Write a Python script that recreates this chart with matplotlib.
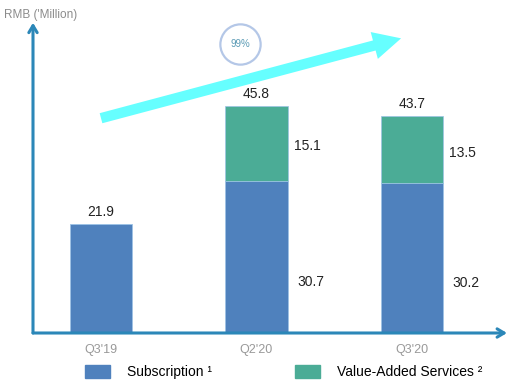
import numpy as np
import matplotlib.pyplot as plt

plt.rcParams['font.family'] = ['Liberation Sans', 'DejaVu Sans']

# data
quarters = ["Q3'19", "Q2'20", "Q3'20"]
subscription = [21.9, 30.7, 30.2]
value_added = [0.0, 15.1, 13.5]
totals = [21.9, 45.8, 43.7]
growth_label = '99%'

blue = '#4F81BD'
teal = '#4BAC96'
axis_col = '#2B87B8'
grey = '#8C8C8C'

fig = plt.figure(figsize=(5.10, 3.87), dpi=100)
# left edge sits on the y axis line
ax = fig.add_axes([33 / 510, 54 / 387, (507 - 33) / 510, 315 / 387])
ax.set_xlim(-(101 - 33) / 155.5, (507 - 101) / 155.5)
ax.set_ylim(0, 63.5)
ax.set_axis_off()

x = np.arange(len(quarters))
w = 0.4
ax.bar(x, subscription, w, color=blue, edgecolor='#9DC3E6', linewidth=0.5, zorder=2)
ax.bar(x, value_added, w, bottom=subscription, color=teal, edgecolor='#9DC3E6',
       linewidth=0.5, zorder=2)

# axis arrows
ax.annotate('', xy=(0, 0.985), xytext=(0, 0), xycoords='axes fraction',
            arrowprops=dict(arrowstyle='->,head_length=0.5,head_width=0.3',
                            color=axis_col, lw=2.2, shrinkA=0, shrinkB=0))
ax.annotate('', xy=(1.0, 0), xytext=(0, 0), xycoords='axes fraction',
            arrowprops=dict(arrowstyle='->,head_length=0.5,head_width=0.3',
                            color=axis_col, lw=2.2, shrinkA=0, shrinkB=0))

# labels
for i in range(len(quarters)):
    ax.text(x[i], totals[i] + 1.0, f'{totals[i]:.1f}', ha='center', va='bottom',
            fontsize=10, color='#222222')
    ax.text(x[i], -2.2, quarters[i], ha='center', va='top', fontsize=9, color='#999999')
    if value_added[i] > 0:
        ax.text(x[i] + w / 2 + 0.06, subscription[i] / 3, f'{subscription[i]:.1f}',
                ha='left', va='center', fontsize=10, color='#222222')
        ax.text(x[i] + w / 2 + 0.04, subscription[i] + value_added[i] / 2 - 0.6,
                f'{value_added[i]:.1f}', ha='left', va='center', fontsize=10,
                color='#222222')

# growth arrow
ax.annotate('', xy=(1.93, 59.4), xytext=(0.0, 43.3),
            arrowprops=dict(arrowstyle='simple,head_length=2.0,head_width=2.0,tail_width=0.75',
                            color='#66FFFF', mutation_scale=10, shrinkA=0, shrinkB=0, lw=0))
ax.plot([0.894], [58.3], marker='o', markersize=29, markerfacecolor='white',
        markeredgecolor='#B4C7E7', markeredgewidth=1.6, zorder=4)
ax.text(0.894, 58.3, growth_label, ha='center', va='center', fontsize=7,
        color='#5B9BB5', zorder=5)

fig.text(4 / 510, 1 - 15 / 387, "RMB ('Million)", ha='left', va='center',
         fontsize=8.5, color=grey)

handles = [plt.Rectangle((0, 0), 1, 1, color=blue), plt.Rectangle((0, 0), 1, 1, color=teal)]
fig.legend(handles, ['Subscription \u00b9', 'Value-Added Services \u00b2'],
           loc='center', bbox_to_anchor=(284 / 510, 15 / 387), ncol=2, frameon=False,
           fontsize=10, handlelength=1.8, handleheight=1.1, handletextpad=1.2,
           columnspacing=6)

fig.savefig('out.png', dpi=100)
